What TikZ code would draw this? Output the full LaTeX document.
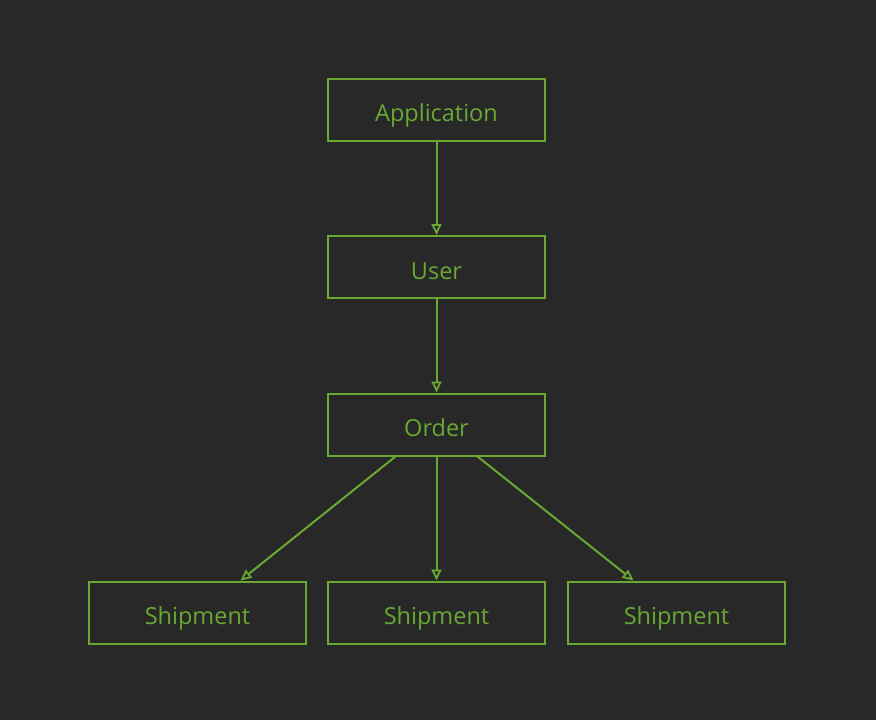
\documentclass[tikz,border=0pt]{standalone}
\usepackage{fontspec}
\setmainfont{Open Sans}
\usepackage{tikz}
\usetikzlibrary{arrows.meta}
\definecolor{bgdark}{RGB}{40,40,40}
\definecolor{leaf}{RGB}{106,168,52}

\begin{document}
\begin{tikzpicture}[x=1pt, y=-1pt,
		box/.style={draw=leaf, line width=2pt, text=leaf, minimum width=217pt, minimum height=62pt, inner sep=0pt, text height=24.4pt, text depth=0pt, font=\fontsize{23.5}{28}\selectfont},
		link/.style={draw=leaf, line width=2pt, -{Triangle[open, length=11pt, width=10pt, line width=1.8pt]}}]
		\fill[bgdark] (0, 0) rectangle (876, 720);

		\draw (436.5, 109.5) node[box] (app)    {Application};
		\draw (436.5, 267) node[box] (user)    {User};
		\draw (436.5, 424.5) node[box] (order)    {Order};
		\draw (197.5, 612.5) node[box] (ship1)    {Shipment};
		\draw (436.5, 612.5) node[box] (ship2)    {Shipment};
		\draw (676.5, 612.5) node[box] (ship3)    {Shipment};

		\draw[link] (app) -- (user);
		\draw[link] (user) -- (order);
		\draw[link] ([xshift=-41pt]order.south) -- ([xshift=43pt]ship1.north);
		\draw[link] (order) -- (ship2);
		\draw[link] ([xshift=41pt]order.south) -- ([xshift=-43pt]ship3.north);
	\end{tikzpicture}
\end{document}
